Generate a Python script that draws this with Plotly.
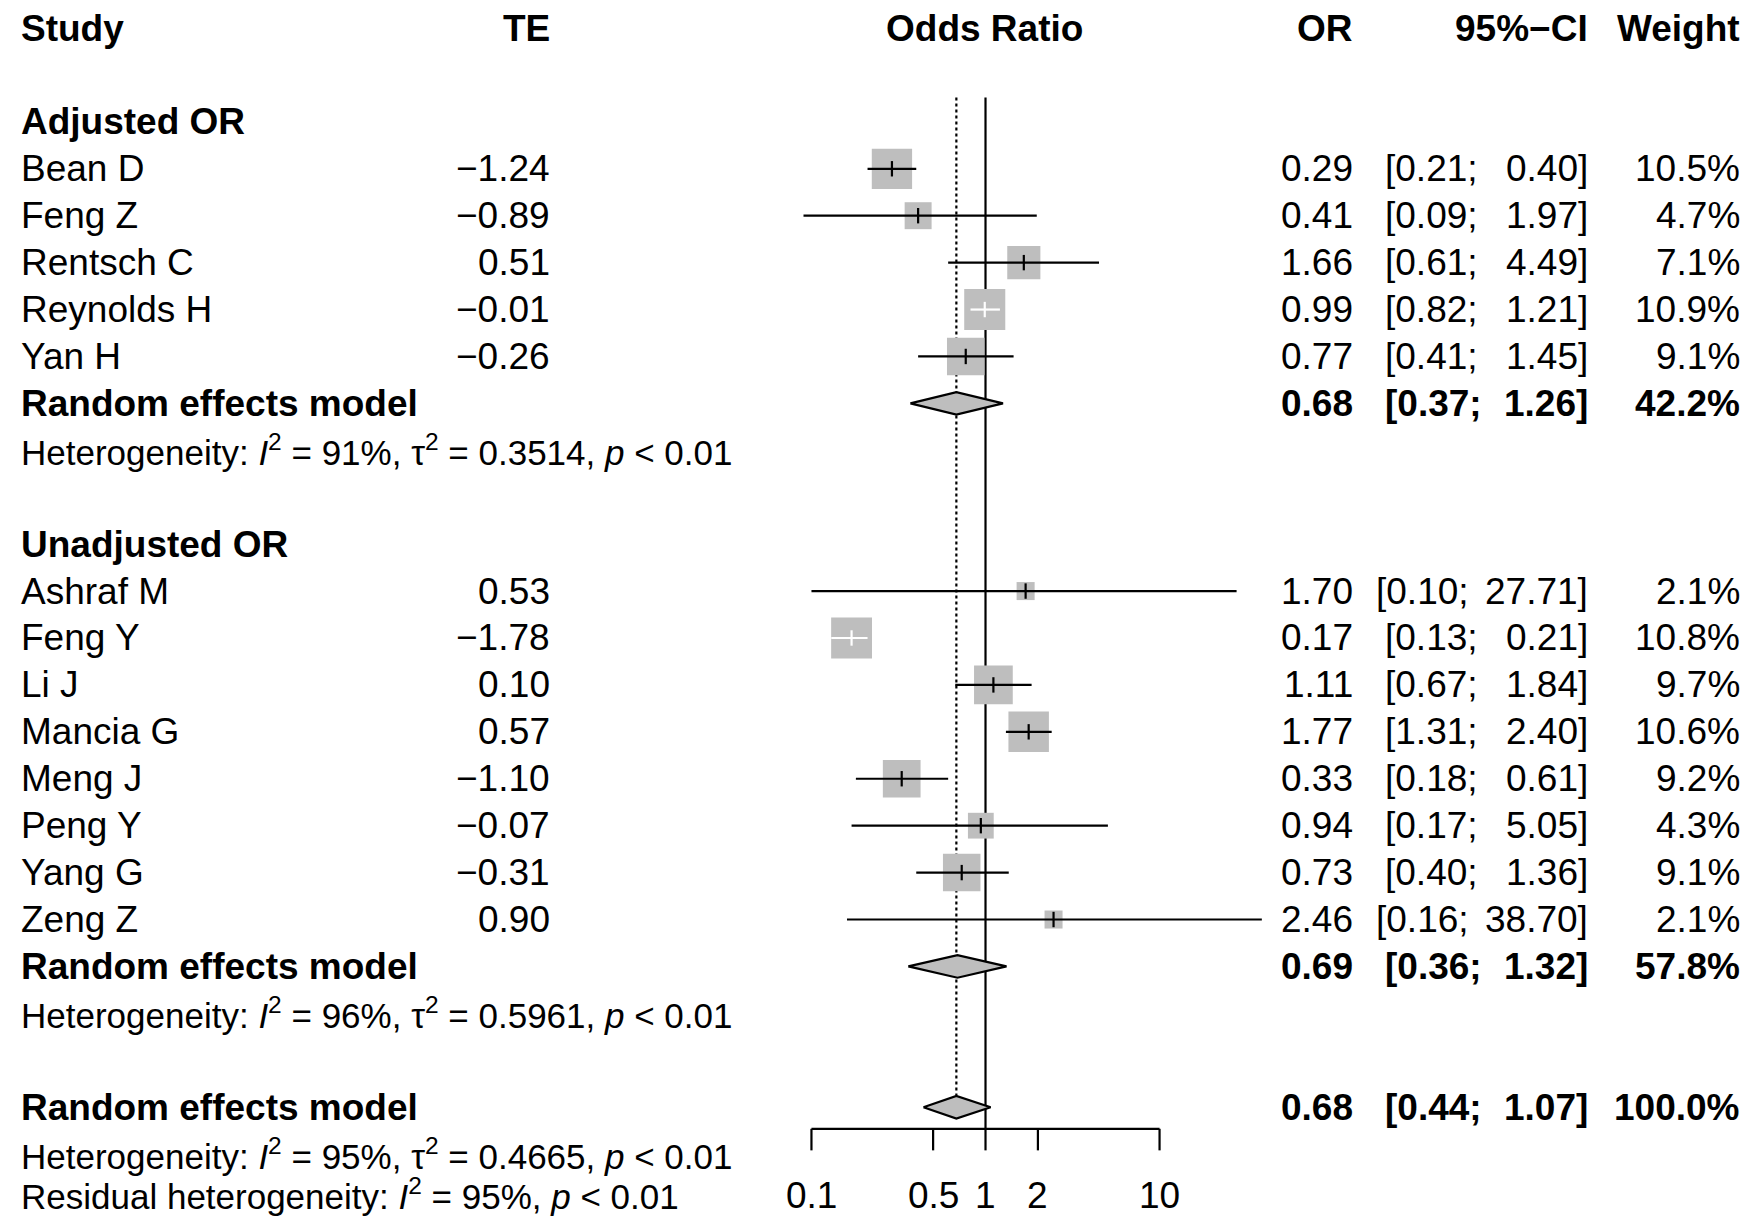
import numpy as np
import plotly.graph_objects as go

# study rows
studies = ["Bean D", "Feng Z", "Rentsch C", "Reynolds H", "Yan H",
           "Ashraf M", "Feng Y", "Li J", "Mancia G", "Meng J", "Peng Y", "Yang G", "Zeng Z"]
te = ["\u22121.24", "\u22120.89", "0.51", "\u22120.01", "\u22120.26",
      "0.53", "\u22121.78", "0.10", "0.57", "\u22121.10", "\u22120.07", "\u22120.31", "0.90"]
odds = [0.29, 0.41, 1.66, 0.99, 0.77, 1.70, 0.17, 1.11, 1.77, 0.33, 0.94, 0.73, 2.46]
lower = [0.21, 0.09, 0.61, 0.82, 0.41, 0.10, 0.13, 0.67, 1.31, 0.18, 0.17, 0.40, 0.16]
upper = [0.40, 1.97, 4.49, 1.21, 1.45, 27.71, 0.21, 1.84, 2.40, 0.61, 5.05, 1.36, 38.70]
weight = [10.5, 4.7, 7.1, 10.9, 9.1, 2.1, 10.8, 9.7, 10.6, 9.2, 4.3, 9.1, 2.1]
rows = [3, 4, 5, 6, 7, 12, 13, 14, 15, 16, 17, 18, 19]

# pooled estimates
pooled_or = [0.68, 0.69, 0.68]
pooled_lo = [0.37, 0.36, 0.44]
pooled_hi = [1.26, 1.32, 1.07]
pooled_w = ["42.2%", "57.8%", "100.0%"]
pooled_rows = [8, 20, 23]

het_text = [
    "Heterogeneity: <i>I</i><sup>2</sup> = 91%, \u03c4<sup>2</sup> = 0.3514, <i>p</i> &lt; 0.01",
    "Heterogeneity: <i>I</i><sup>2</sup> = 96%, \u03c4<sup>2</sup> = 0.5961, <i>p</i> &lt; 0.01",
    "Heterogeneity: <i>I</i><sup>2</sup> = 95%, \u03c4<sup>2</sup> = 0.4665, <i>p</i> &lt; 0.01",
    "Residual heterogeneity: <i>I</i><sup>2</sup> = 95%, <i>p</i> &lt; 0.01",
]
het_rows = [9, 21, 24, 25]

ticks = [0.1, 0.5, 1, 2, 10]
tick_labels = ["0.1", "0.5", "1", "2", "10"]

W, H = 1755, 1217
S = W / 1568.0  # reference pixel scale
FONT = "Liberation Sans, Arial, sans-serif"
FS = 37
GRAY = "#BEBEBE"
LW = 2.2


def px(x):
    return x / 1568.0


fig = go.Figure()
anns = []


def txt(x, row, s, anchor="left", bold=False, size=FS, shift=0):
    if bold:
        s = "<b>" + s + "</b>"
    anns.append(dict(x=px(x), y=row, xref="paper", yref="y", text=s, showarrow=False,
                     xanchor=anchor, yanchor="middle", yshift=shift,
                     font=dict(family=FONT, size=size, color="black")))


def ci_text(row, lo, hi, bold=False):
    # wide upper limits push the bracket left, as in the original
    x0 = 1228 if hi >= 10 else 1236
    txt(x0, row, "[%.2f;" % lo, "left", bold)
    txt(1421, row, "%.2f]" % hi, "right", bold)


# reference lines
fig.add_trace(go.Scatter(x=[1, 1], y=[1.48, 23.46], mode="lines",
                         line=dict(color="black", width=LW), hoverinfo="skip"))
fig.add_trace(go.Scatter(x=[0.68, 0.68], y=[1.48, 22.75], mode="lines",
                         line=dict(color="black", width=LW, dash="dot"), hoverinfo="skip"))

# squares and CIs
for i in range(len(studies)):
    r = rows[i]
    size = 36 * S * np.sqrt(weight[i] / 10.5)
    fig.add_trace(go.Scatter(x=[odds[i]], y=[r], mode="markers",
                             marker=dict(symbol="square", size=size, color=GRAY, line=dict(width=0)),
                             hoverinfo="skip"))
    inside = studies[i] in ("Reynolds H", "Feng Y")
    col = "white" if inside else "black"
    fig.add_trace(go.Scatter(x=[lower[i], upper[i]], y=[r, r], mode="lines",
                             line=dict(color=col, width=LW), hoverinfo="skip"))
    fig.add_trace(go.Scatter(x=[odds[i]], y=[r], mode="markers",
                             marker=dict(symbol="line-ns", size=11, line=dict(color=col, width=LW)),
                             hoverinfo="skip"))
    txt(17, r, studies[i])
    txt(493, r, te[i], "right")
    txt(1211, r, "%.2f" % odds[i], "right")
    ci_text(r, lower[i], upper[i])
    txt(1556, r, "%.1f%%" % weight[i], "right")

# diamonds
h = 0.24
for k in range(3):
    r = pooled_rows[k]
    fig.add_trace(go.Scatter(
        x=[pooled_lo[k], pooled_or[k], pooled_hi[k], pooled_or[k], pooled_lo[k]],
        y=[r, r - h, r, r + h, r], mode="lines", fill="toself", fillcolor=GRAY,
        line=dict(color="black", width=LW), hoverinfo="skip"))
    txt(17, r, "Random effects model", bold=True)
    txt(1211, r, "%.2f" % pooled_or[k], "right", True)
    ci_text(r, pooled_lo[k], pooled_hi[k], True)
    txt(1556, r, pooled_w[k], "right", True)

for s, r in zip(het_text, het_rows):
    txt(17, r, s, size=35, shift=7 if r == 25 else 0)

# x axis drawn by hand
fig.add_trace(go.Scatter(x=[0.1, 10], y=[23.46, 23.46], mode="lines",
                         line=dict(color="black", width=LW), hoverinfo="skip"))
for t, lab in zip(ticks, tick_labels):
    fig.add_trace(go.Scatter(x=[t, t], y=[23.46, 23.92], mode="lines",
                             line=dict(color="black", width=LW), hoverinfo="skip"))
    anns.append(dict(x=np.log10(t), y=25, xref="x", yref="y", text=lab, showarrow=False,
                     xanchor="center", yanchor="middle", yshift=6,
                     font=dict(family=FONT, size=FS, color="black")))

# headers and subgroup labels
txt(17, 0, "Study", bold=True)
txt(493, 0, "TE", "right", True)
txt(880, 0, "Odds Ratio", "center", True)
txt(1211, 0, "OR", "right", True)
txt(1421, 0, "95%\u2212CI", "right", True)
txt(1556, 0, "Weight", "right", True)
txt(17, 2, "Adjusted OR", bold=True)
txt(17, 11, "Unadjusted OR", bold=True)

lo_log = -1 - 725 / 155.5
hi_log = -1 + (1568 - 725) / 155.5
fig.update_layout(
    width=W, height=H, margin=dict(l=0, r=0, t=0, b=0),
    paper_bgcolor="white", plot_bgcolor="white", showlegend=False,
    xaxis=dict(type="log", range=[lo_log, hi_log], visible=False, domain=[0, 1]),
    yaxis=dict(range=[25.34, -0.597], visible=False, domain=[0, 1]),
    annotations=anns,
)
fig.write_html("out.html", config={"displayModeBar": False},
               post_script="document.body.style.margin='0';")
